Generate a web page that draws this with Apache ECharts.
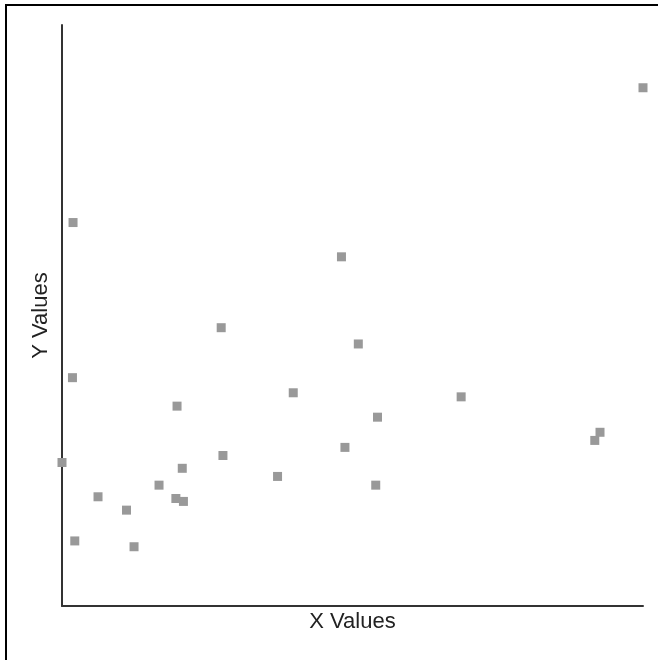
<!DOCTYPE html>
<html>
<head>
<meta charset="utf-8">
<script src="https://cdn.jsdelivr.net/npm/echarts@6/dist/echarts.min.js"></script>
<style>
  html, body { margin: 0; padding: 0; background: #fff; overflow: hidden; }
  #frame { position: absolute; left: 5px; top: 4px; width: 700px; height: 700px; border: 2px solid #000; box-sizing: border-box; }
  #chart { position: absolute; left: 0; top: 0; width: 658px; height: 660px; }
</style>
</head>
<body>
<div id="frame"></div>
<div id="chart"></div>
<script>
// Data values (arbitrary units, 0-100 on both axes)
const xValues = [0.0, 1.9, 1.8, 2.2, 6.2, 11.1, 12.4, 16.7, 19.8, 19.6, 20.7, 20.9, 27.4, 27.7, 37.1, 39.8, 48.1, 48.7, 51.0, 54.0, 54.3, 68.7, 92.6, 91.7, 100.0];
const yValues = [24.7, 66.0, 39.3, 11.2, 18.8, 16.5, 10.2, 20.8, 34.4, 18.5, 23.7, 18.0, 47.9, 25.9, 22.3, 36.7, 60.1, 27.3, 45.1, 20.8, 32.5, 36.0, 29.9, 28.5, 89.2];
const xAxisTitle = 'X Values';
const yAxisTitle = 'Y Values';

const points = xValues.map((x, i) => [x, yValues[i]]);

const chart = echarts.init(document.getElementById('chart'), null, { renderer: 'canvas' });
const fontFamily = 'Liberation Sans, Arial, sans-serif';
chart.setOption({
  animation: false,
  backgroundColor: 'transparent',
  grid: { left: 62, top: 25, right: 15, bottom: 54, containLabel: false },
  xAxis: {
    type: 'value', min: 0, max: 100,
    name: xAxisTitle, nameLocation: 'middle', nameGap: 5,
    nameTextStyle: { fontFamily, fontSize: 22, color: '#222', verticalAlign: 'top' },
    axisLine: { show: true, onZero: false, lineStyle: { color: '#333', width: 2 } },
    axisTick: { show: false }, axisLabel: { show: false }, splitLine: { show: false }
  },
  yAxis: {
    type: 'value', min: 0, max: 100,
    name: yAxisTitle, nameLocation: 'middle', nameGap: 10,
    nameTextStyle: { fontFamily, fontSize: 22, color: '#222' },
    axisLine: { show: true, onZero: false, lineStyle: { color: '#333', width: 2 } },
    axisTick: { show: false }, axisLabel: { show: false }, splitLine: { show: false }
  },
  series: [{
    type: 'scatter',
    data: points,
    symbol: 'rect',
    symbolSize: 9,
    itemStyle: { color: '#999999', opacity: 1 },
    silent: true
  }]
});
</script>
</body>
</html>
